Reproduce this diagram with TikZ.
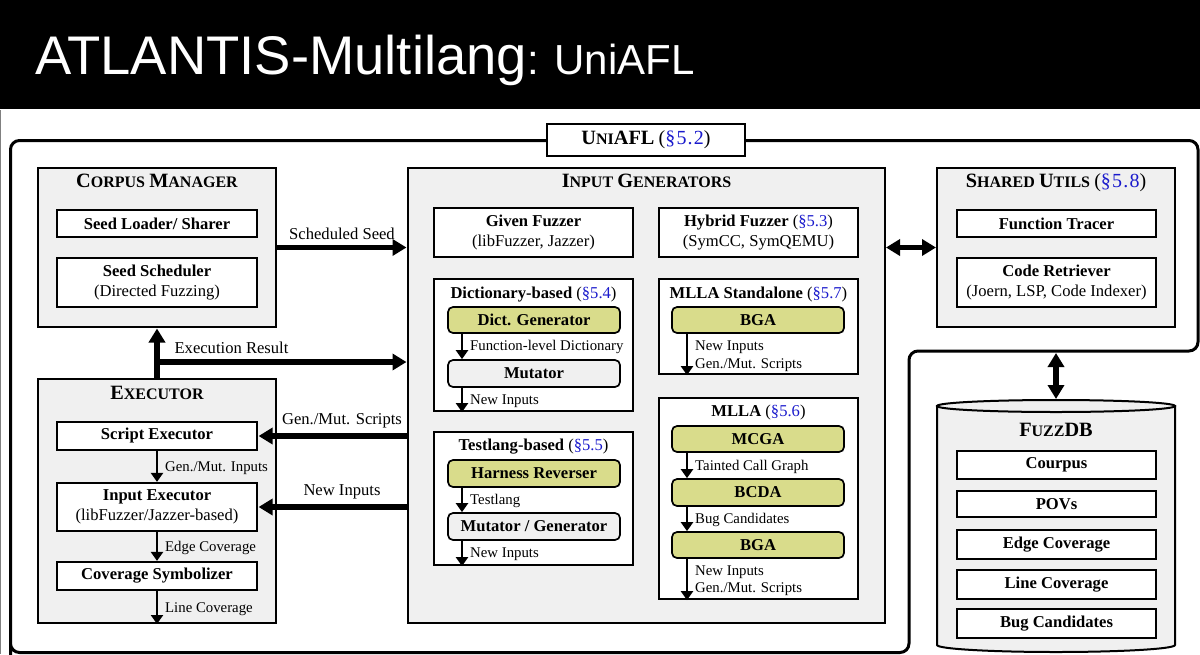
\documentclass[tikz,border=0pt]{standalone}
\usepackage{fontspec}
\setmainfont{Liberation Serif}
\newfontfamily\arialfont{Liberation Sans}
\usetikzlibrary{arrows.meta,calc}
\definecolor{panelgray}{HTML}{F0F0F0}
\definecolor{agentyellow}{HTML}{D9DC8B}
\definecolor{secblue}{HTML}{1A1ACC}
\newcommand{\normsize}{\fontsize{16.6}{20.5}\selectfont}
\newcommand{\smallsize}{\fontsize{14.8}{17.5}\selectfont}
\newcommand{\smc}[2]{{\fontsize{20.3}{21}\selectfont #1}{\fontsize{16}{21}\selectfont #2}}
\newcommand{\sref}[1]{({\color{secblue}§#1})}
\newcommand{\bigref}[1]{{\mdseries\fontsize{20}{21}\selectfont\addfontfeature{LetterSpace=6}({\color{secblue}§#1})}}
\newcommand{\bx}[6]{% style, name, x1, y1, x2, y2 then text via node
  \pgfmathsetmacro{\bxw}{#5-#3}\pgfmathsetmacro{\bxh}{#6-#4}%
  \pgfmathsetmacro{\bxx}{(#3+#5)/2}\pgfmathsetmacro{\bxy}{(#4+#6)/2}%
  \node[#1,minimum width=\bxw pt,minimum height=\bxh pt] (#2) at (\bxx,\bxy)}
\tikzset{
  panel/.style={draw=black,fill=panelgray,line width=2pt,inner sep=0pt},
  whitebox/.style={draw=black,fill=white,line width=2.2pt,inner sep=0pt,align=center,font=\normsize},
  agentbox/.style={draw=black,fill=agentyellow,line width=1.7pt,rounded corners=5pt,inner sep=0pt,align=center,font=\normsize\bfseries},
  toolbox/.style={draw=black,fill=panelgray,line width=1.7pt,rounded corners=5pt,inner sep=0pt,align=center,font=\normsize\bfseries},
  paneltitle/.style={inner sep=0pt,font=\normsize\bfseries,anchor=base},
  boxtitle/.style={inner sep=0pt,font=\normsize,anchor=base},
  flowlabel/.style={inner sep=0pt,font=\fontsize{16.6}{20}\selectfont,anchor=base},
  minilabel/.style={inner sep=0pt,font=\smallsize,anchor=base west,align=left},
  bigarrow/.style={line width=5.5pt,-{Triangle[length=14pt,width=16pt]},shorten >=0.5pt},
  bigdouble/.style={line width=5.5pt,{Triangle[length=14pt,width=16pt]}-{Triangle[length=14pt,width=16pt]}},
  miniarrow/.style={line width=2.6pt,-{Triangle[length=9pt,width=12pt]}},
}
\begin{document}
\begin{tikzpicture}[x=1pt,y=-1pt]
\useasboundingbox (0,0) rectangle (1200,654);
\fill[white] (0,0) rectangle (1200,654);
\fill[black] (0,0) rectangle (1200,109);
\fill[gray] (0,110) rectangle (1.4,654);
\node[anchor=base west,inner sep=0pt,text=white,font=\arialfont\fontsize{54.4}{60}\selectfont] (maintitle) at (35,74) {ATLANTIS-Multilang};
\node[anchor=base west,inner sep=0pt,text=white,font=\arialfont\fontsize{42}{46}\selectfont] (subtitle) at (maintitle.base east) {: UniAFL};

% outer frame
\draw[black,line width=3pt,rounded corners=9pt] (10.5,660) -- (10.5,140.5) -- (1198,140.5) -- (1198,351) -- (909,351) -- (909,652.5) -- (10.5,652.5) -- (10.5,600);
\bx{draw=black,fill=white,line width=2.5pt,inner sep=0pt,font=\normsize}{uniafl}{547}{124}{745}{156}{\bfseries\smc{U}{NI}\smc{AFL}{} \bigref{5.2}};

% corpus manager
\bx{panel}{corpus}{38}{168}{276}{327}{};
\node[paneltitle] (corpustitle) at (157,187) {\smc{C}{ORPUS} \smc{M}{ANAGER}};
\bx{whitebox}{loader}{57}{210}{257}{237}{\bfseries Seed Loader/ Sharer};
\bx{whitebox}{scheduler}{57}{258}{257}{307}{\textbf{Seed Scheduler}\\(Directed Fuzzing)};

% executor
\bx{panel}{executor}{38}{379}{276}{623}{};
\node[paneltitle] (executortitle) at (157,399) {\smc{E}{XECUTOR}};
\bx{whitebox}{script}{57}{422}{257}{450}{\bfseries Script Executor};
\bx{whitebox}{input}{57}{483}{257}{531}{\textbf{Input Executor}\\(libFuzzer/Jazzer-based)};
\bx{whitebox}{symbolizer}{57}{562}{257}{590}{\bfseries Coverage Symbolizer};

% input generators
\bx{panel}{gen}{408}{168}{885}{623}{};
\node[paneltitle] (gentitle) at (646.5,187) {\smc{I}{NPUT} \smc{G}{ENERATORS}};
\bx{whitebox}{given}{434}{208}{633}{257}{\textbf{Given Fuzzer}\\(libFuzzer, Jazzer)};
\bx{whitebox}{hybrid}{659}{208}{858}{257}{\textbf{Hybrid Fuzzer} \sref{5.3}\\(SymCC, SymQEMU)};
\bx{whitebox}{dict}{434}{279}{633}{411}{};
\node[boxtitle] (dicttitle) at (533.5,298) {\textbf{Dictionary-based} \sref{5.4}};
\bx{agentbox}{dictgen}{448}{307}{620}{333}{Dict. Generator};
\bx{toolbox}{dictmut}{448}{360}{620}{387}{Mutator};
\bx{whitebox}{standalone}{659}{279}{858}{374}{};
\node[boxtitle] (standalonetitle) at (758.5,298) {\textbf{MLLA Standalone} \sref{5.7}};
\bx{agentbox}{bgaone}{672}{307}{844}{333}{BGA};
\bx{whitebox}{testlang}{434}{432}{633}{565}{};
\node[boxtitle] (testlangtitle) at (533.5,450.5) {\textbf{Testlang-based} \sref{5.5}};
\bx{agentbox}{harness}{448}{460}{620}{487}{Harness Reverser};
\bx{toolbox}{mutgen}{448}{513}{620}{540}{Mutator / Generator};
\bx{whitebox}{mlla}{659}{398}{858}{599}{};
\node[boxtitle] (mllatitle) at (758.5,416.5) {\textbf{MLLA} \sref{5.6}};
\bx{agentbox}{mcga}{672}{426}{844}{452}{MCGA};
\bx{agentbox}{bcda}{672}{479}{844}{506}{BCDA};
\bx{agentbox}{bgatwo}{672}{532}{844}{558}{BGA};

% shared utils
\bx{panel}{shared}{937}{168}{1175}{327}{};
\node[paneltitle] (sharedtitle) at (1056,187) {\smc{S}{HARED} \smc{U}{TILS} \bigref{5.8}};
\bx{whitebox}{tracer}{957}{210}{1156}{237}{\bfseries Function Tracer};
\bx{whitebox}{retriever}{957}{258}{1156}{307}{\textbf{Code Retriever}\\(Joern, LSP, Code Indexer)};

% fuzzdb cylinder
\draw[black,fill=panelgray,line width=2pt] (937,406) -- (937,645) arc[start angle=180,end angle=360,x radius=119pt,y radius=7pt] -- (1175,406) -- cycle;
\draw[black,fill=panelgray,line width=2pt] (1056,406) ellipse [x radius=119pt,y radius=6pt];
\coordinate (dbtop) at (1056,399);
\coordinate (frameedge) at (1056,353);
\node[paneltitle] (dbtitle) at (1056,436) {\smc{F}{UZZ}\smc{DB}{}};
\bx{whitebox}{courpus}{957}{451}{1156}{479}{\bfseries Courpus};
\bx{whitebox}{povs}{957}{491}{1156}{517}{\bfseries POVs};
\bx{whitebox}{edge}{957}{530}{1156}{559}{\bfseries Edge Coverage};
\bx{whitebox}{line}{957}{570}{1156}{599}{\bfseries Line Coverage};
\bx{whitebox}{bugs}{957}{609}{1156}{638}{\bfseries Bug Candidates};

% big arrows
\draw[bigarrow] (corpus.east) -- (corpus.east -| gen.west) node[pos=0.5,flowlabel,yshift=8pt] (schedlabel) {Scheduled Seed};
\draw[bigarrow] (executor.north) -- (corpus.south);
\coordinate (junction) at (157,362);
\draw[bigarrow] (junction) -- (junction -| gen.west);
\node[flowlabel] (resultlabel) at (231.5,353) {Execution Result};
\draw[bigarrow] (gen.west |- script.east) -- (script.east);
\node[flowlabel] (scriptslabel) at (342,424) {Gen./Mut. Scripts};
\draw[bigarrow] (gen.west |- input.east) -- (input.east);
\node[flowlabel] (newlabel) at (342,495) {New Inputs};
\draw[bigdouble] (gen.east |- shared.west) -- (shared.west);
\draw[bigdouble] (frameedge) -- (dbtop);

% mini arrows
\coordinate (lx) at (462,0);
\coordinate (rx) at (687,0);
\draw[miniarrow] (script.south) -- (input.north);
\node[minilabel] at (165,471) {Gen./Mut. Inputs};
\draw[miniarrow] (input.south) -- (symbolizer.north);
\node[minilabel] at (165,551) {Edge Coverage};
\draw[miniarrow] (symbolizer.south) -- (executor.south);
\node[minilabel] at (165,612) {Line Coverage};

\draw[miniarrow] (lx |- dictgen.south) -- (lx |- dictmut.north);
\node[minilabel] at (470,350) {Function-level Dictionary};
\draw[miniarrow] (lx |- dictmut.south) -- (lx |- dict.south);
\node[minilabel] at (470,404) {New Inputs};
\draw[miniarrow] (lx |- harness.south) -- (lx |- mutgen.north);
\node[minilabel] at (470,504) {Testlang};
\draw[miniarrow] (lx |- mutgen.south) -- (lx |- testlang.south);
\node[minilabel] at (470,557) {New Inputs};

\draw[miniarrow] (rx |- bgaone.south) -- (rx |- standalone.south);
\node[minilabel] at (695,350) {New Inputs};
\node[minilabel] at (695,368) {Gen./Mut. Scripts};
\draw[miniarrow] (rx |- mcga.south) -- (rx |- bcda.north);
\node[minilabel] at (695,470) {Tainted Call Graph};
\draw[miniarrow] (rx |- bcda.south) -- (rx |- bgatwo.north);
\node[minilabel] at (695,523) {Bug Candidates};
\draw[miniarrow] (rx |- bgatwo.south) -- (rx |- mlla.south);
\node[minilabel] at (695,575) {New Inputs};
\node[minilabel] at (695,592) {Gen./Mut. Scripts};
\end{tikzpicture}
\end{document}
